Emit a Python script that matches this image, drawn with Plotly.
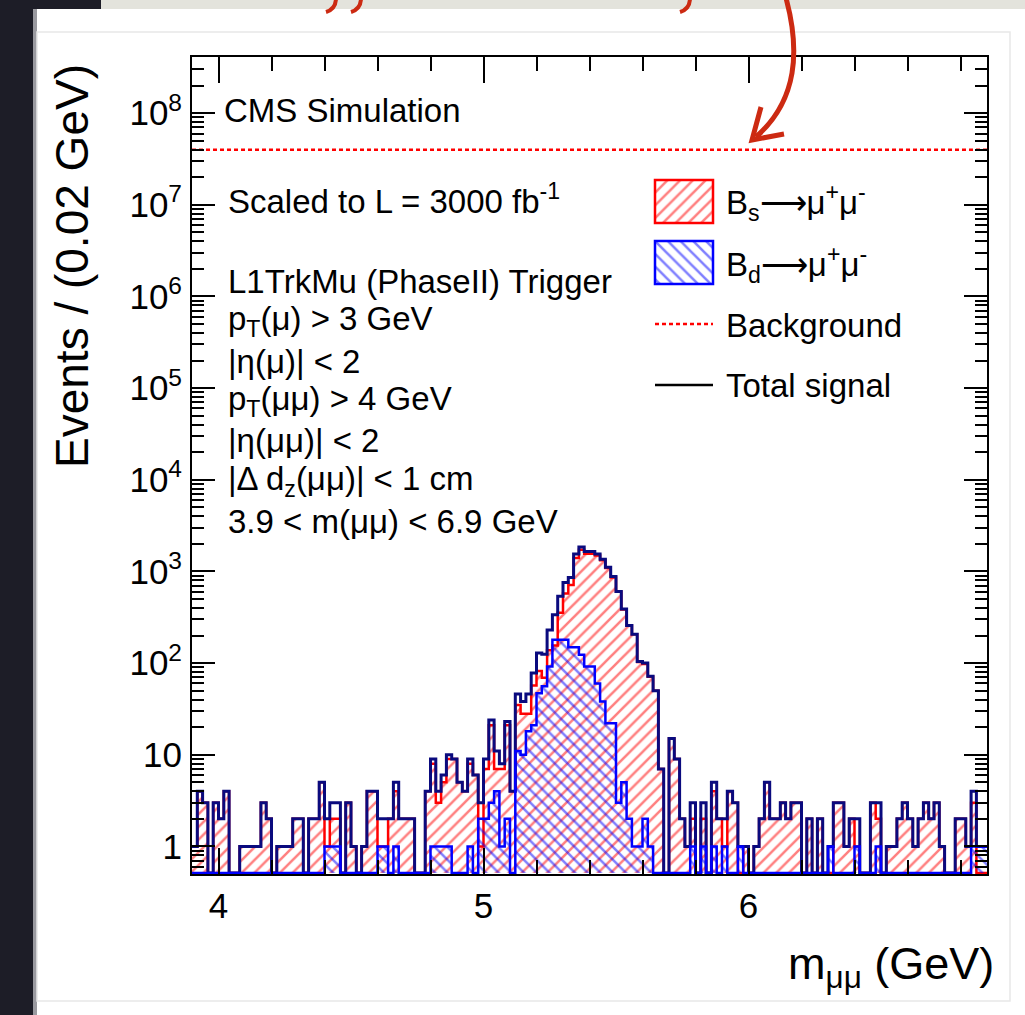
import numpy as np
import plotly.graph_objects as go

# ------------------------------------------------------------------ data
x_min, x_max, bin_width = 3.9, 6.9, 0.02

# B_s -> mu mu events per 0.02 GeV bin (150 bins, 3.9 - 6.9 GeV)
bs_events = [
    1, 4, 3, 0, 3, 2, 4, 0, 0, 1,
    1, 1, 1, 3, 2, 0, 1, 1, 1, 2,
    2, 0, 2, 2, 5, 1, 2, 2, 0, 3,
    1, 0, 1, 4, 4, 1, 1, 2, 4, 2,
    2, 2, 0, 0, 4, 8, 3, 5, 9, 9,
    5, 4, 8, 6, 1, 7, 21, 7, 7, 21,
    4, 35, 28, 28, 57, 82, 69, 138, 156, 355,
    576, 711, 1401, 1727, 1558, 1558, 1490, 1322, 1088, 858,
    602, 385, 255, 206, 103, 98, 71, 50, 7, 0,
    15, 9, 2, 1, 2, 0, 2, 0, 4, 2,
    1, 4, 3, 0, 1, 0, 1, 2, 5, 2,
    2, 3, 2, 3, 3, 0, 2, 0, 2, 0,
    0, 3, 3, 1, 2, 1, 0, 0, 3, 2,
    0, 1, 1, 2, 3, 2, 1, 2, 3, 2,
    3, 1, 0, 0, 2, 2, 1, 3, 0, 0,
]

# B_d -> mu mu events per bin
bd_events = [
    0, 0, 0, 0, 0, 0, 0, 0, 0, 0,
    0, 0, 0, 0, 0, 0, 0, 0, 0, 0,
    0, 0, 0, 0, 0, 1, 1, 1, 0, 0,
    0, 0, 0, 0, 0, 1, 1, 0, 1, 0,
    0, 0, 0, 0, 0, 1, 1, 1, 1, 0,
    0, 0, 1, 0, 2, 2, 3, 4, 1, 2,
    0, 11, 10, 18, 21, 47, 56, 92, 180, 180,
    180, 149, 149, 123, 92, 92, 60, 38, 22, 22,
    3, 5, 2, 1, 1, 2, 1, 0, 0, 0,
    0, 0, 0, 0, 1, 0, 1, 0, 1, 0,
    1, 0, 0, 1, 0, 0, 0, 0, 0, 0,
    0, 0, 0, 0, 0, 0, 0, 0, 0, 0,
    1, 0, 0, 0, 0, 1, 0, 0, 0, 1,
    0, 0, 0, 0, 0, 0, 0, 0, 0, 0,
    0, 0, 0, 0, 0, 0, 0, 1, 1, 1,
]

background_level = 4.0e7          # flat background, events / bin
y_axis_min, y_axis_max = 0.5, 4.1e8

x_major_ticks = [4, 5, 6]
x_major_labels = ["4", "5", "6"]
y_major_ticks = [1, 10, 1e2, 1e3, 1e4, 1e5, 1e6, 1e7, 1e8]
y_major_labels = ["1", "10"] + ["10<sup>%d</sup>" % k for k in range(2, 9)]

info_lines = [
    "L1TrkMu (PhaseII) Trigger",
    "p<sub>T</sub>(μ) &gt; 3 GeV",
    "|η(μ)| &lt; 2",
    "p<sub>T</sub>(μμ) &gt; 4 GeV",
    "|η(μμ)| &lt; 2",
    "|Δ d<sub>z</sub>(μμ)| &lt; 1 cm",
    "3.9 &lt; m(μμ) &lt; 6.9 GeV",
]
legend_labels = [
    "B<sub>s</sub>⟶μ<sup>+</sup>μ<sup>-</sup>",
    "B<sub>d</sub>⟶μ<sup>+</sup>μ<sup>-</sup>",
    "Background",
    "Total signal",
]

# ------------------------------------------------------------------ derived
n_bins = len(bs_events)
edges = np.round(x_min + bin_width * np.arange(n_bins + 1), 6)
bs = np.array(bs_events, dtype=float)
bd = np.array(bd_events, dtype=float)
total = bs + bd

# like ROOT: empty bins are drawn on the bottom of the (log) frame
y_floor = 10 ** (np.log10(y_axis_min) + 0.012)


def step_y(vals):
    v = np.maximum(vals, y_floor)
    return np.append(v, v[-1])


def fill_xy(vals):
    xs = np.concatenate([[edges[0]], edges, [edges[-1]]])
    ys = np.concatenate([[y_floor], step_y(vals), [y_floor]])
    return xs, ys


RED = "#ff0000"
BLUE = "#0000ff"
NAVY = "#0a0a7e"
FONT = "Liberation Sans, Arial, Helvetica, sans-serif"
HATCH = dict(size=9, solidity=0.28)

# plot-area geometry in page pixels
L, R, T, B = 192, 38, 57, 141
W_PAGE, H_PAGE = 1025, 1015
PW, PH = W_PAGE - L - R, H_PAGE - T - B


def px(X):
    return (X - L) / PW


def py(Y):
    return 1 - (Y - T) / PH


fig = go.Figure()

# B_s hatched fill + outline
fx, fy = fill_xy(bs)
fig.add_trace(go.Scatter(
    x=fx, y=fy, mode="lines", line=dict(width=0, shape="hv"),
    fill="toself", fillcolor="rgba(0,0,0,0)",
    fillpattern=dict(shape="/", fgcolor=RED, bgcolor="rgba(0,0,0,0)", **HATCH),
    hoverinfo="skip"))
fig.add_trace(go.Scatter(
    x=edges, y=step_y(bs), mode="lines",
    line=dict(color=RED, width=2.5, shape="hv"), name="Bs"))

# total signal outline
fig.add_trace(go.Scatter(
    x=edges, y=step_y(total), mode="lines",
    line=dict(color=NAVY, width=3, shape="hv"), name="Total signal"))

# B_d hatched fill + outline
fx, fy = fill_xy(bd)
fig.add_trace(go.Scatter(
    x=fx, y=fy, mode="lines", line=dict(width=0, shape="hv"),
    fill="toself", fillcolor="rgba(0,0,0,0)",
    fillpattern=dict(shape="\\", fgcolor=BLUE, bgcolor="rgba(0,0,0,0)", **HATCH),
    hoverinfo="skip"))
fig.add_trace(go.Scatter(
    x=edges, y=step_y(bd), mode="lines",
    line=dict(color=BLUE, width=2.5, shape="hv"), name="Bd"))

# background
fig.add_trace(go.Scatter(
    x=[edges[0], edges[-1]], y=[background_level, background_level],
    mode="lines", line=dict(color=RED, width=2.5, dash="4px,3px"),
    name="Background"))

# ---------------- legend swatches (hatched boxes on small helper axes)
legend_box_x = (655, 713)
legend_rows = [(180, 223), (241, 284)]
for k, (shape, col) in enumerate([("/", RED), ("\\", BLUE)]):
    ax = k + 2
    y0, y1 = legend_rows[k]
    fig.add_trace(go.Scatter(
        x=[0, 1, 1, 0, 0], y=[0, 0, 1, 1, 0], mode="lines",
        line=dict(width=0), fill="toself", fillcolor="rgba(0,0,0,0)",
        fillpattern=dict(shape=shape, fgcolor=col, bgcolor="rgba(0,0,0,0)", **HATCH),
        xaxis="x%d" % ax, yaxis="y%d" % ax, hoverinfo="skip"))
    fig.update_layout(**{
        "xaxis%d" % ax: dict(domain=[px(legend_box_x[0]), px(legend_box_x[1])],
                             range=[0, 1], visible=False, anchor="y%d" % ax,
                             fixedrange=True),
        "yaxis%d" % ax: dict(domain=[py(y1), py(y0)], range=[0, 1],
                             visible=False, anchor="x%d" % ax, fixedrange=True),
    })

shapes = []
# slide-like surroundings of the screenshot
shapes.append(dict(type="rect", xref="paper", yref="paper", layer="below",
                   x0=px(0), x1=px(33), y0=py(H_PAGE), y1=py(0),
                   fillcolor="#1d1d27", line=dict(width=0)))
shapes.append(dict(type="rect", xref="paper", yref="paper", layer="below",
                   x0=px(33), x1=px(37), y0=py(H_PAGE), y1=py(9),
                   fillcolor="#9a9aa0", line=dict(width=0)))
shapes.append(dict(type="rect", xref="paper", yref="paper", layer="below",
                   x0=px(0), x1=px(101), y0=py(9), y1=py(0),
                   fillcolor="#1d1d27", line=dict(width=0)))
shapes.append(dict(type="rect", xref="paper", yref="paper", layer="below",
                   x0=px(101), x1=px(W_PAGE), y0=py(9), y1=py(0),
                   fillcolor="#e3e3dc", line=dict(width=0)))
shapes.append(dict(type="rect", xref="paper", yref="paper", layer="below",
                   x0=px(37), x1=px(1010), y0=py(1001), y1=py(32),
                   fillcolor="rgba(0,0,0,0)", line=dict(color="#e8e8e8", width=1.5)))

# legend box borders and legend lines
for k, col in enumerate([RED, BLUE]):
    y0, y1 = legend_rows[k]
    shapes.append(dict(type="rect", xref="paper", yref="paper",
                       x0=px(legend_box_x[0]), x1=px(legend_box_x[1]),
                       y0=py(y1), y1=py(y0), line=dict(color=col, width=2.5)))
shapes.append(dict(type="line", xref="paper", yref="paper",
                   x0=px(655), x1=px(713), y0=py(324), y1=py(324),
                   line=dict(color=RED, width=2.5, dash="4px,3px")))
shapes.append(dict(type="line", xref="paper", yref="paper",
                   x0=px(655), x1=px(713), y0=py(385), y1=py(385),
                   line=dict(color="black", width=2.5)))


# hand-drawn red arrow (annotation on the slide)
def ppath(pts, cmd):
    out = []
    for c, (X, Y) in zip(cmd, pts):
        out.append("%s%.5f,%.5f" % (c, px(X), py(Y)))
    return " ".join(out)


ARROW = "#cc2a12"
shapes.append(dict(type="path", xref="paper", yref="paper",
                   path=ppath([(786, -2), (800, 50), (798, 100), (756, 137)],
                              ["M", "C", " ", " "]),
                   line=dict(color=ARROW, width=5)))
shapes.append(dict(type="path", xref="paper", yref="paper",
                   path=ppath([(761, 107), (752, 140), (784, 134)], ["M", "L", "L"]),
                   line=dict(color=ARROW, width=5)))
for hx in (336, 361, 690):
    shapes.append(dict(type="path", xref="paper", yref="paper",
                       path=ppath([(hx, -2), (hx, 9), (hx - 10, 12)], ["M", "Q", " "]),
                       line=dict(color=ARROW, width=4)))

annotations = []


def add_text(text, X, Y, size=33, xanchor="left", angle=0):
    annotations.append(dict(text=text, xref="paper", yref="paper",
                            x=px(X), y=py(Y), xanchor=xanchor, yanchor="middle",
                            showarrow=False, textangle=angle,
                            font=dict(family=FONT, size=size, color="black")))


add_text("CMS Simulation", 222, 121 - 11)
add_text("Scaled to L = 3000 fb<sup>-1</sup>", 226, 210 - 11)
for i, line in enumerate(info_lines):
    add_text(line, 226, 292 + 40 * i - 11)
for i, (lab, base) in enumerate(zip(legend_labels, [213, 275, 336, 396])):
    add_text(lab, 724, base - 11)
add_text("Events / (0.02 GeV)", 72, 266, size=46, xanchor="center", angle=-90)
add_text("m<sub>μμ</sub> (GeV)", 996, 966, size=45, xanchor="right")

fig.update_layout(
    width=W_PAGE, height=H_PAGE, autosize=False,
    margin=dict(l=L, r=R, t=T, b=B, pad=0),
    paper_bgcolor="white", plot_bgcolor="white",
    showlegend=False,
    font=dict(family=FONT, color="black"),
    shapes=shapes, annotations=annotations,
    xaxis=dict(range=[x_min, x_max], tickmode="array", tickvals=x_major_ticks,
               ticktext=x_major_labels, ticks="inside", ticklen=26, tickwidth=1.5,
               tickcolor="black", showline=True, linecolor="black", linewidth=2,
               mirror="allticks", showgrid=False, zeroline=False,
               tickfont=dict(size=35, family=FONT), ticklabelstandoff=0,
               minor=dict(ticks="inside", ticklen=14, tickwidth=1.5,
                          tickcolor="black", tick0=4, dtick=0.2)),
    yaxis=dict(type="log", range=[np.log10(y_axis_min), np.log10(y_axis_max)],
               tickmode="array", tickvals=y_major_ticks, ticktext=y_major_labels,
               ticks="inside", ticklen=23, tickwidth=1.5, tickcolor="black",
               showline=True, linecolor="black", linewidth=2, mirror="allticks",
               showgrid=False, zeroline=False,
               tickfont=dict(size=35, family=FONT), ticklabelstandoff=1,
               minor=dict(ticks="inside", ticklen=12, tickwidth=1.5,
                          tickcolor="black",
                          tickvals=[m * 10.0 ** d for d in range(-1, 9)
                                    for m in range(2, 10)])),
)

fig.write_html("out.html")
